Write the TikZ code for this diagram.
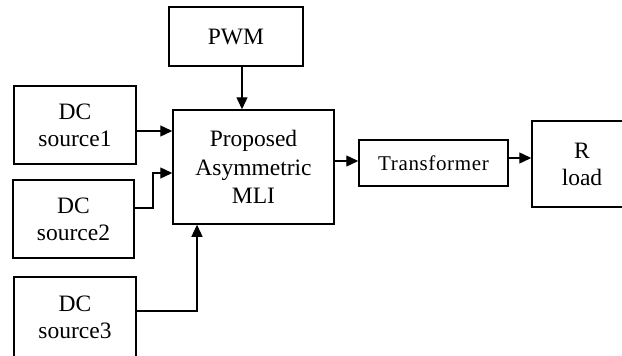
\documentclass[tikz,border=0pt]{standalone}
\usepackage{fontspec}
\setmainfont{Liberation Serif}
\usetikzlibrary{arrows.meta}
\tikzset{
  blk/.style={draw,line width=1.5pt,align=center,inner sep=0pt,font=\fontsize{23.5}{27}\selectfont},
  sig/.style={line width=1.3pt,-{Triangle[length=12pt,width=11pt]}}
}
\begin{document}
\begin{tikzpicture}[x=1pt,y=-1pt]
            \useasboundingbox (0,0) rectangle (622,356);
            \clip (0,0) rectangle (622,356);
            % blocks
            \node[blk,minimum width=134,minimum height=59] (pwm) at (236,36.5) {PWM};
            \node[blk,minimum width=122,minimum height=78] (dc1) at (75,125) {DC\\source1};
            \node[blk,minimum width=121,minimum height=78] (dc2) at (73.5,219) {DC\\source2};
            \node[blk,minimum width=122,minimum height=80] (dc3) at (75,317) {DC\\source3};
            \node[blk,minimum width=161,minimum height=114,font=\fontsize{23.5}{28.5}\selectfont] (mli) at (253.5,167) {Proposed\\Asymmetric\\MLI};
            \node[blk,minimum width=149,minimum height=46,font=\fontsize{21}{27}\selectfont\addfontfeature{LetterSpace=3}] (tr) at (433.5,163) {Transformer};
            \node[blk,minimum width=100,minimum height=86] (rl) at (582,164) {R\\load};
            % bend points
            \coordinate (k0) at (242,80);
            \coordinate (k1) at (150,131);
            \coordinate (k2a) at (153,208);
            \coordinate (k2b) at (153,173);
            \coordinate (k3) at (197,311);
            \coordinate (k4) at (346,161);
            \coordinate (k5) at (520,158);
            % signals
            \draw[sig] (pwm.south -| k0) -- (mli.north -| k0);
            \draw[sig] (dc1.east |- k1) -- (mli.west |- k1);
            \draw[sig] (dc2.east |- k2a) -- (k2a) -- (k2b) -- (mli.west |- k2b);
            \draw[sig] (dc3.east |- k3) -- (k3) -- (mli.south -| k3);
            \draw[sig] (mli.east |- k4) -- (tr.west |- k4);
            \draw[sig] (tr.east |- k5) -- (rl.west |- k5);
        \end{tikzpicture}
\end{document}
